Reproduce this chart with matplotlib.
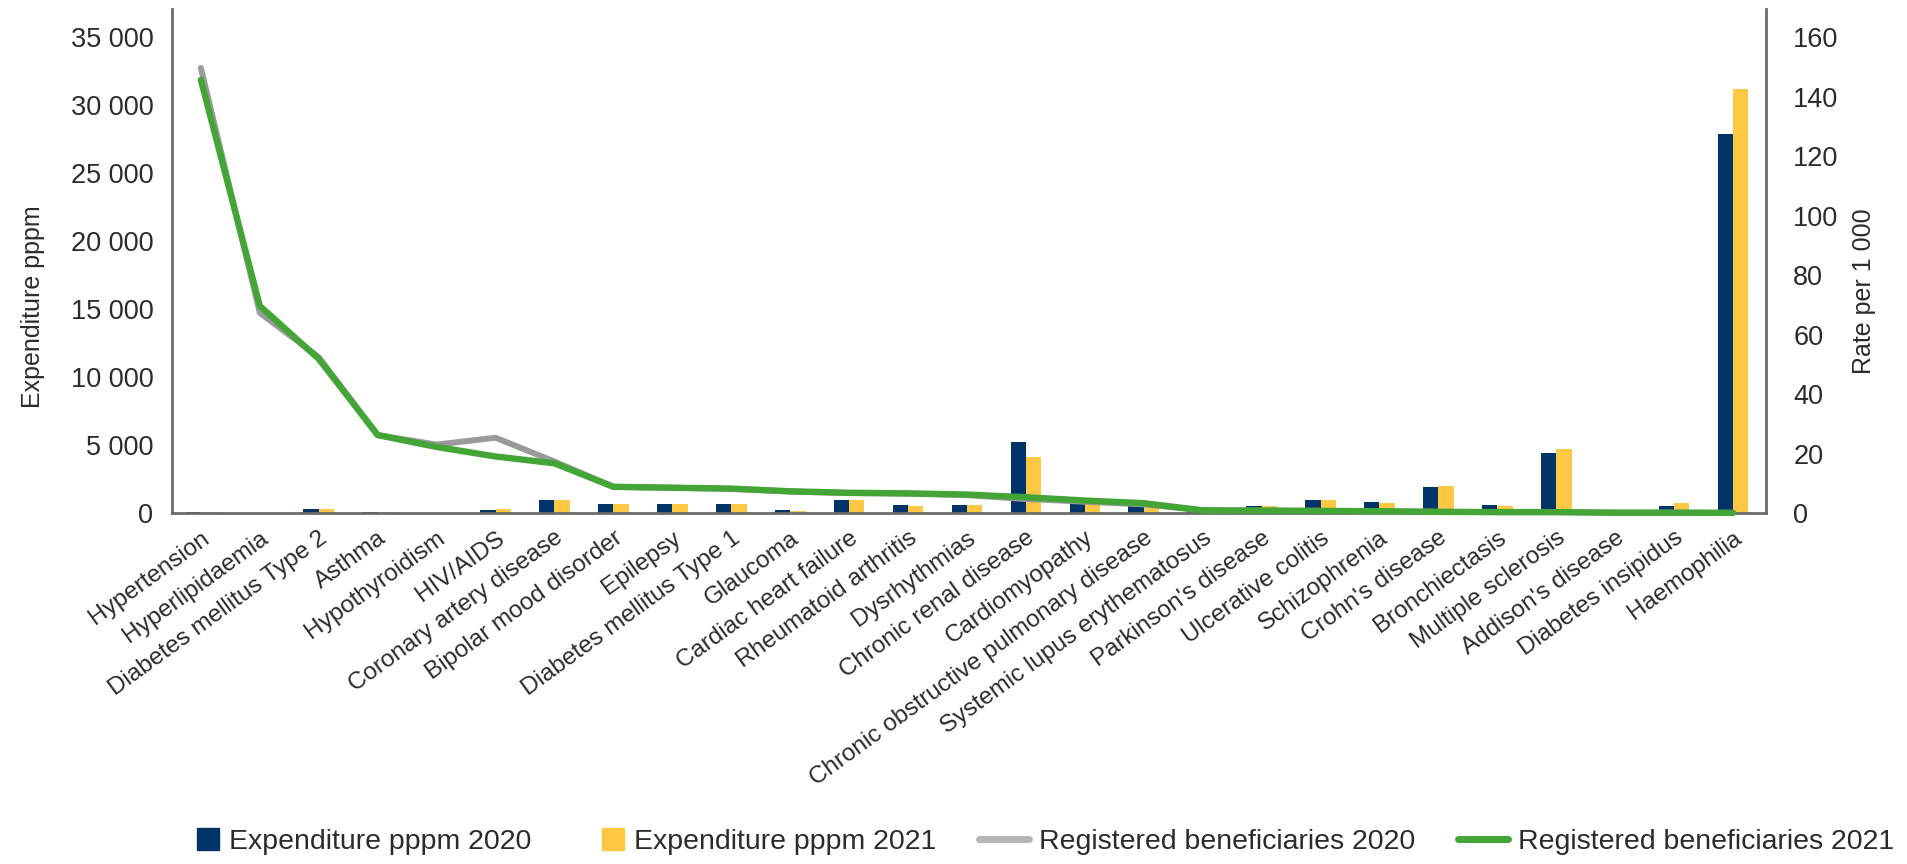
import numpy as np
import matplotlib
matplotlib.use('Agg')
import matplotlib.pyplot as plt
import matplotlib.patches as mpatches
from matplotlib.lines import Line2D
from matplotlib.legend_handler import HandlerPatch
from matplotlib.ticker import FuncFormatter

plt.rcParams['font.family'] = ['Liberation Sans', 'DejaVu Sans']

#categories along the x axis
categories = ['Hypertension', 'Hyperlipidaemia', 'Diabetes mellitus Type 2', 'Asthma',
              'Hypothyroidism', 'HIV/AIDS', 'Coronary artery disease', 'Bipolar mood disorder',
              'Epilepsy', 'Diabetes mellitus Type 1', 'Glaucoma', 'Cardiac heart failure',
              'Rheumatoid arthritis', 'Dysrhythmias', 'Chronic renal disease', 'Cardiomyopathy',
              'Chronic obstructive pulmonary disease', 'Systemic lupus erythematosus',
              "Parkinson's disease", 'Ulcerative colitis', 'Schizophrenia', "Crohn's disease",
              'Bronchiectasis', 'Multiple sclerosis', "Addison's disease", 'Diabetes insipidus',
              'Haemophilia']

#expenditure per person per month (left axis)
exp2020 = [100, 30, 330, 100, 30, 250, 950, 650, 650, 650, 220, 950, 580, 580, 5200,
           750, 600, 150, 550, 950, 800, 1900, 600, 4380, 30, 520, 27900]
exp2021 = [80, 30, 300, 90, 30, 300, 920, 630, 640, 640, 170, 940, 520, 580, 4150,
           690, 450, 80, 520, 950, 750, 2000, 520, 4680, 20, 700, 31200]

#registered beneficiaries, rate per 1 000 (right axis)
ben2020 = [149.6, 67.3, 52.4, 26.2, 23.0, 25.3, 17.3, 8.8, 8.5, 8.1, 7.2, 6.7, 6.5, 6.0,
           4.7, 3.8, 2.9, 0.9, 0.8, 0.7, 0.5, 0.4, 0.3, 0.3, 0.1, 0.1, 0.05]
ben2021 = [145.6, 69.6, 51.8, 26.2, 22.2, 19.0, 16.7, 8.8, 8.5, 8.2, 7.3, 6.8, 6.6, 6.2,
           5.3, 4.2, 3.3, 0.9, 0.8, 0.7, 0.6, 0.4, 0.3, 0.3, 0.1, 0.1, 0.05]

left_ticks = [0, 5000, 10000, 15000, 20000, 25000, 30000, 35000]
right_ticks = [0, 20, 40, 60, 80, 100, 120, 140, 160]

navy = '#003469'
yellow = '#FFC844'
grey = '#9a9a9a'
green = '#43A536'
axis_col = '#6b6b6b'
text_col = '#2b2b2b'

fig = plt.figure(figsize=(19.07, 8.64), dpi=100)
ax = fig.add_axes([0.0902, 0.40625, 0.8359, 0.5833])

x = np.arange(len(categories))
w = 0.26
ax.bar(x - w / 2, exp2020, w, color=navy)
ax.bar(x + w / 2, exp2021, w, color=yellow)
ax.set_xlim(-0.49, 26.56)
ax.set_ylim(0, 37060)
ax.set_yticks(left_ticks)
ax.yaxis.set_major_formatter(FuncFormatter(lambda v, p: f'{v:,.0f}'.replace(',', ' ')))
ax.set_xticks(x)
ax.set_xticklabels(categories, rotation=36, ha='right', va='top', rotation_mode='anchor')
ax.tick_params(axis='y', length=0, labelsize=19.5, colors=text_col, pad=13.5)
ax.tick_params(axis='x', length=0, labelsize=17.5, colors=text_col, pad=10)
ax.set_ylabel('Expenditure pppm', fontsize=18, color=text_col)
ax.yaxis.set_label_coords(-0.0795, 0.41)
for s in ['top', 'right']:
    ax.spines[s].set_visible(False)
for s in ['left', 'bottom']:
    ax.spines[s].set_color(axis_col)
    ax.spines[s].set_linewidth(2)

ax2 = ax.twinx()
ax2.plot(x, ben2020, color=grey, lw=4.3, solid_capstyle='round', clip_on=False)
ax2.plot(x, ben2021, color=green, lw=4.6, solid_capstyle='round', clip_on=False)
ax2.set_ylim(0, 37060 / 218.75)
ax2.set_yticks(right_ticks)
ax2.tick_params(axis='y', length=0, labelsize=19.5, colors=text_col, pad=19.5)
ax2.set_ylabel('Rate per 1 000', fontsize=18, color=text_col)
ax2.yaxis.set_label_coords(1.054, 0.44)
for s in ['top', 'left', 'bottom']:
    ax2.spines[s].set_visible(False)
ax2.spines['right'].set_color(axis_col)
ax2.spines['right'].set_linewidth(2)


#square legend markers for the bars
def square(legend, orig_handle, xdescent, ydescent, width, height, fontsize):
    s = height * 1.1
    return mpatches.Rectangle((width - s - xdescent, -ydescent + (height - s) / 2), s, s)


handles = [mpatches.Patch(color=navy), mpatches.Patch(color=yellow),
           Line2D([], [], color='#b5b5b5', lw=5, solid_capstyle='round'),
           Line2D([], [], color=green, lw=5, solid_capstyle='round')]
labels = ['Expenditure pppm 2020', 'Expenditure pppm 2021',
          'Registered beneficiaries 2020', 'Registered beneficiaries 2021']
fig.legend(handles, labels, loc='center', bbox_to_anchor=(0.541, 0.026), ncol=4,
           frameon=False, fontsize=20.5, handlelength=1.75, handletextpad=0.35,
           columnspacing=1.5, labelcolor=text_col, borderaxespad=0, borderpad=0,
           handler_map={mpatches.Patch: HandlerPatch(patch_func=square)})

fig.savefig('out.png', dpi=100)
